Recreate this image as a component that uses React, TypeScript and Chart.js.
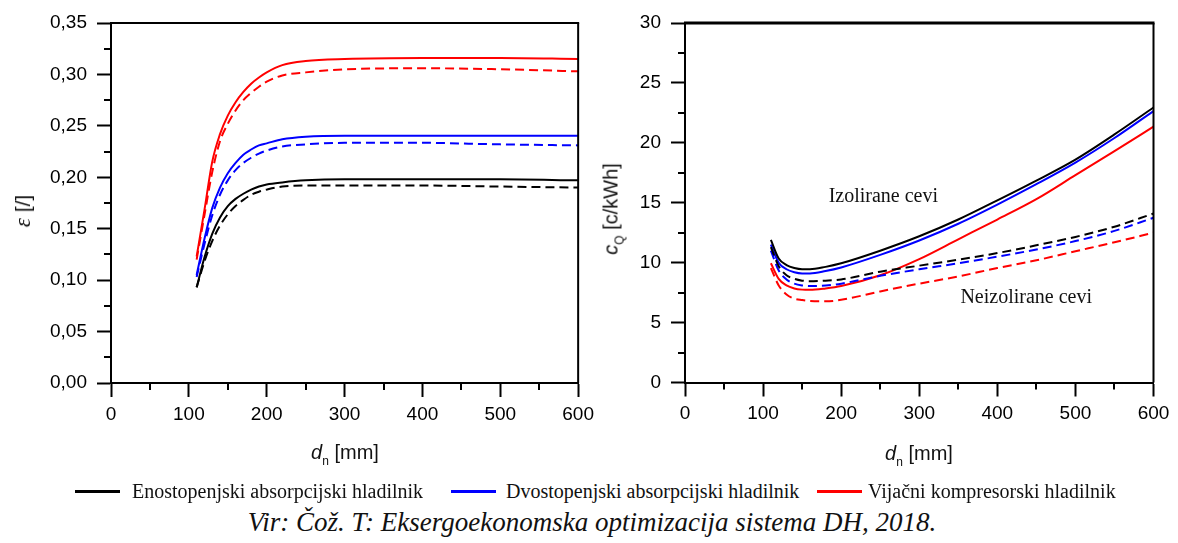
import React, { useEffect, useRef } from "react";
import { Chart, registerables } from "chart.js";

Chart.register(...registerables);

// ---------- DATA ----------
const epsX = [110, 120, 130, 140, 150, 160, 170, 180, 190, 200, 220, 250, 300, 400, 500, 600];
const epsBlackIns = [0.093, 0.122, 0.145, 0.161, 0.172, 0.179, 0.184, 0.188, 0.191, 0.193, 0.195, 0.197, 0.198, 0.198, 0.198, 0.197];
const epsBlackNon = [0.093, 0.118, 0.138, 0.153, 0.164, 0.172, 0.178, 0.183, 0.186, 0.188, 0.191, 0.192, 0.192, 0.192, 0.191, 0.19];
const epsBlueIns = [0.105, 0.14, 0.17, 0.19, 0.204, 0.214, 0.222, 0.227, 0.231, 0.233, 0.237, 0.2395, 0.2405, 0.2405, 0.2405, 0.2405];
const epsBlueNon = [0.103, 0.135, 0.163, 0.183, 0.197, 0.207, 0.214, 0.219, 0.223, 0.226, 0.23, 0.232, 0.2335, 0.2335, 0.232, 0.231];
const epsRedIns = [0.123, 0.168, 0.215, 0.242, 0.26, 0.273, 0.283, 0.291, 0.297, 0.302, 0.309, 0.313, 0.315, 0.316, 0.316, 0.315];
const epsRedNon = [0.12, 0.163, 0.205, 0.235, 0.252, 0.265, 0.275, 0.282, 0.288, 0.293, 0.299, 0.302, 0.305, 0.306, 0.305, 0.303];

const cqX = [110, 120, 130, 140, 150, 160, 180, 200, 250, 300, 350, 400, 450, 500, 550, 600];
const cqBlackIns = [11.9, 10.35, 9.8, 9.55, 9.45, 9.45, 9.65, 9.95, 11.0, 12.2, 13.6, 15.2, 16.85, 18.6, 20.7, 22.95];
const cqBlueIns = [11.5, 10.0, 9.45, 9.2, 9.1, 9.1, 9.3, 9.6, 10.65, 11.85, 13.25, 14.85, 16.55, 18.35, 20.4, 22.65];
const cqRedIns = [9.95, 8.65, 8.1, 7.85, 7.75, 7.73, 7.85, 8.05, 8.95, 10.3, 11.95, 13.6, 15.3, 17.3, 19.3, 21.35];
const cqBlackNon = [11.3, 9.7, 8.95, 8.65, 8.5, 8.45, 8.5, 8.6, 9.25, 9.75, 10.25, 10.8, 11.45, 12.15, 13.0, 14.1];
const cqBlueNon = [11.0, 9.35, 8.6, 8.25, 8.1, 8.05, 8.1, 8.25, 8.9, 9.45, 9.95, 10.5, 11.1, 11.8, 12.65, 13.75];
const cqRedNon = [9.55, 8.1, 7.35, 7.0, 6.88, 6.8, 6.77, 6.9, 7.6, 8.25, 8.85, 9.55, 10.2, 10.95, 11.7, 12.5];

const xMinorTicks = [50, 150, 250, 350, 450, 550];
const epsMinorTicks = [0.025, 0.075, 0.125, 0.175, 0.225, 0.275, 0.325];
const cqMinorTicks = [2.5, 7.5, 12.5, 17.5, 22.5, 27.5];

const legendLabels = [
  "Enostopenjski absorpcijski hladilnik",
  "Dvostopenjski absorpcijski hladilnik",
  "Vijačni kompresorski hladilnik",
];
const annotIns = { text: "Izolirane cevi", x: 254, y: 15.5 };
const annotNon = { text: "Neizolirane cevi", x: 437, y: 7.1 };
const caption = "Vir: Čož. T: Eksergoekonomska optimizacija sistema DH, 2018.";

const BLACK = "#000000";
const BLUE = "#0000ff";
const RED = "#ff0000";
const SANS = '"Liberation Sans", Arial, sans-serif';
const SERIF = '"Liberation Serif", "Times New Roman", serif';

const pts = (xs: number[], ys: number[]) => xs.map((x, i) => ({ x, y: ys[i] }));

const ds = (xs: number[], ys: number[], color: string, dashed: boolean) => ({
  data: pts(xs, ys),
  borderColor: color,
  backgroundColor: color,
  borderWidth: 2,
  borderDash: dashed ? [9, 5] : [],
  pointRadius: 0,
  cubicInterpolationMode: "monotone" as const,
  fill: false,
});

const framePlugin = {
  id: "frame",
  afterDraw(chart: any, _args: any, opts: any) {
    const { ctx, chartArea: a, scales } = chart;
    ctx.save();
    ctx.strokeStyle = "#000";
    ctx.lineWidth = opts.topWidth || 2;
    ctx.beginPath();
    ctx.moveTo(a.left - 1, a.top);
    ctx.lineTo(a.right + 1, a.top);
    ctx.stroke();
    ctx.lineWidth = 2;
    ctx.beginPath();
    ctx.moveTo(a.right, a.top);
    ctx.lineTo(a.right, a.bottom);
    ctx.stroke();
    ctx.lineWidth = 2;
    (opts.yMinor || []).forEach((v: number) => {
      const y = Math.round(scales.y.getPixelForValue(v));
      ctx.beginPath();
      ctx.moveTo(a.left - 7, y);
      ctx.lineTo(a.left, y);
      ctx.stroke();
    });
    (opts.xMinor || []).forEach((v: number) => {
      const x = Math.round(scales.x.getPixelForValue(v));
      ctx.beginPath();
      ctx.moveTo(x, a.bottom);
      ctx.lineTo(x, a.bottom + 7);
      ctx.stroke();
    });
    (opts.annotations || []).forEach((t: any) => {
      ctx.fillStyle = "#111";
      ctx.font = "20px " + SERIF;
      ctx.textAlign = "center";
      ctx.textBaseline = "middle";
      ctx.fillText(t.text, scales.x.getPixelForValue(t.x), scales.y.getPixelForValue(t.y));
    });
    ctx.restore();
  },
};

function makeOptions(cfg: {
  yMax: number;
  yStep: number;
  yFmt: (v: number) => string;
  yWidth: number;
  xHeight: number;
  padRight: number;
  yMinor: number[];
  topWidth: number;
  annotations: any[];
}) {
  const tickFont = { family: SANS, size: 19 };
  return {
    animation: false as const,
    responsive: true,
    maintainAspectRatio: false,
    events: [] as any[],
    layout: { padding: { top: 23, right: cfg.padRight, left: 0, bottom: 0 } },
    plugins: {
      legend: { display: false },
      tooltip: { enabled: false },
      frame: {
        yMinor: cfg.yMinor,
        xMinor: xMinorTicks,
        topWidth: cfg.topWidth,
        annotations: cfg.annotations,
      },
    },
    scales: {
      x: {
        type: "linear" as const,
        min: 0,
        max: 600,
        ticks: { stepSize: 100, color: "#000", font: tickFont, padding: 6, maxRotation: 0 },
        grid: { display: true, drawOnChartArea: false, drawTicks: true, tickLength: 14, tickColor: "#000", tickWidth: 2 },
        border: { display: true, color: "#000", width: 2 },
        afterFit: (s: any) => {
          s.height = cfg.xHeight;
        },
      },
      y: {
        type: "linear" as const,
        min: 0,
        max: cfg.yMax,
        ticks: {
          stepSize: cfg.yStep,
          color: "#000",
          font: tickFont,
          padding: 10,
          callback: (v: any) => cfg.yFmt(Number(v)),
        },
        grid: { display: true, drawOnChartArea: false, drawTicks: true, tickLength: 14, tickColor: "#000", tickWidth: 2 },
        border: { display: true, color: "#000", width: 2 },
        afterFit: (s: any) => {
          s.width = cfg.yWidth;
        },
      },
    },
  };
}

function ChartBox(props: { style: React.CSSProperties; build: (c: HTMLCanvasElement) => Chart }) {
  const ref = useRef<HTMLCanvasElement | null>(null);
  useEffect(() => {
    if (!ref.current) return;
    const chart = props.build(ref.current);
    return () => chart.destroy();
  }, []);
  return (
    <div style={{ position: "absolute", ...props.style }}>
      <canvas ref={ref} />
    </div>
  );
}

const abs = (s: React.CSSProperties): React.CSSProperties => ({ position: "absolute", whiteSpace: "nowrap", ...s });

export default function App() {
  const buildLeft = (c: HTMLCanvasElement) =>
    new Chart(c, {
      type: "line",
      data: {
        datasets: [
          ds(epsX, epsBlackIns, BLACK, false),
          ds(epsX, epsBlackNon, BLACK, true),
          ds(epsX, epsBlueIns, BLUE, false),
          ds(epsX, epsBlueNon, BLUE, true),
          ds(epsX, epsRedIns, RED, false),
          ds(epsX, epsRedNon, RED, true),
        ],
      },
      options: makeOptions({
        yMax: 0.35,
        yStep: 0.05,
        yFmt: (v) => v.toFixed(2).replace(".", ","),
        yWidth: 111,
        xHeight: 92,
        padRight: 21,
        yMinor: epsMinorTicks,
        topWidth: 2,
        annotations: [],
      }) as any,
      plugins: [framePlugin],
    });

  const buildRight = (c: HTMLCanvasElement) =>
    new Chart(c, {
      type: "line",
      data: {
        datasets: [
          ds(cqX, cqBlackIns, BLACK, false),
          ds(cqX, cqBlackNon, BLACK, true),
          ds(cqX, cqBlueIns, BLUE, false),
          ds(cqX, cqBlueNon, BLUE, true),
          ds(cqX, cqRedIns, RED, false),
          ds(cqX, cqRedNon, RED, true),
        ],
      },
      options: makeOptions({
        yMax: 30,
        yStep: 5,
        yFmt: (v) => String(Math.round(v)),
        yWidth: 85,
        xHeight: 92.5,
        padRight: 24.5,
        yMinor: cqMinorTicks,
        topWidth: 3,
        annotations: [annotIns, annotNon],
      }) as any,
      plugins: [framePlugin],
    });

  const titleFont: React.CSSProperties = { fontFamily: SANS, fontSize: 20, color: "#111" };
  const subStyle: React.CSSProperties = { fontSize: 12, verticalAlign: -6 };
  const legendColors = [BLACK, BLUE, RED];
  const legendLine = [75, 451, 817];
  const legendText = [132, 506, 868];

  return (
    <div style={{ position: "absolute", left: 0, top: 0, width: 1178, height: 543, background: "#fff", overflow: "hidden" }}>
      <ChartBox style={{ left: 0, top: 0, width: 600, height: 475 }} build={buildLeft} />
      <ChartBox style={{ left: 600, top: 0, width: 578, height: 475 }} build={buildRight} />

      {/* axis titles */}
      <div style={abs({ ...titleFont, left: 345, top: 454, transform: "translate(-50%,-50%)" })}>
        <i>d</i>
        <span style={subStyle}>n</span> [mm]
      </div>
      <div style={abs({ ...titleFont, left: 919, top: 455, transform: "translate(-50%,-50%)" })}>
        <i>d</i>
        <span style={subStyle}>n</span> [mm]
      </div>
      <div style={abs({ ...titleFont, fontSize: 21, left: 23, top: 211, transform: "translate(-50%,-50%) rotate(-90deg)" })}>
        <i style={{ fontFamily: SERIF, fontSize: 23 }}>ε</i> [/]
      </div>
      <div style={abs({ ...titleFont, left: 613, top: 209, transform: "translate(-50%,-50%) rotate(-90deg)" })}>
        <i>c</i>
        <span style={subStyle}>Q</span> [c/kWh]
      </div>

      {/* legend */}
      {legendLabels.map((lab, i) => (
        <React.Fragment key={lab}>
          <div style={abs({ left: legendLine[i], top: 490, width: 45, height: 2.5, background: legendColors[i] })} />
          <div
            style={abs({
              left: legendText[i],
              top: 491,
              transform: "translateY(-50%)",
              fontFamily: SERIF,
              fontSize: 20,
              color: "#111",
            })}
          >
            {lab}
          </div>
        </React.Fragment>
      ))}

      {/* caption */}
      <div
        style={abs({
          left: 592,
          top: 522,
          transform: "translate(-50%,-50%)",
          fontFamily: SERIF,
          fontStyle: "italic",
          fontSize: 27,
          color: "#111",
        })}
      >
        {caption}
      </div>
    </div>
  );
}
